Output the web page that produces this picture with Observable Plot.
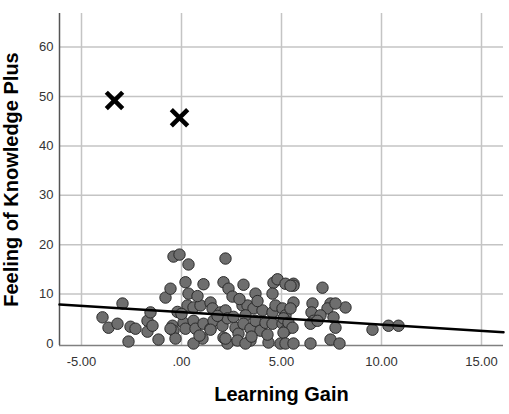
<!DOCTYPE html>
<html>
<head>
<meta charset="utf-8">
<script src="https://cdn.jsdelivr.net/npm/d3@7"></script>
<script src="https://cdn.jsdelivr.net/npm/@observablehq/plot@0.6"></script>
<style>
  html, body { margin: 0; padding: 0; background: #fff; }
  #chart svg { display: block; }
</style>
</head>
<body>
<div id="chart"></div>
<script>
// Learning gain (x) values of the regular cases
const gainX = [-3.95,-3.65,-3.2,-2.95,-2.65,-2.55,-2.3,-1.7,-1.55,-1.7,-1.45,-1.15,-0.8,-0.55,-0.4,-0.1,0.35,0.2,1.1,2.2,2.1,2.35,0.35,0.3,0.6,0.95,1.45,1.55,1.95,
  -0.45,-0.4,-0.3,0.1,0.2,0.6,0.7,1.1,1.05,1.45,1.6,2.05,2.1,0.6,1.45,2.3,-0.55,
  2.55,3.05,3.1,3.7,4.6,4.8,4.55,5.6,2.2,2.3,3.3,3.6,3.2,4.05,4.55,4.7,5.05,5.2,
  2.7,2.85,3.1,3.45,3.7,3.95,4.2,4.55,5.05,5.2,2.2,2.8,3.45,4.35,4.95,3.2,
  5.6,7.05,6.55,6.5,6.6,5.2,5.45,5.6,5.45,7.45,7.3,8.2,6.95,7.6,5.1,5.35,5.55,5.1,6.45,6.8,7.7,
  5.2,5.6,6.45,7.45,7.9,9.55,10.35,10.85,7.7,
  0.9,2.6,3.8,4.3,0.8,-0.2,1.8,2.9,3.5,0.0];
// Feeling of Knowledge Plus (y) values of the regular cases
const fokY = [5.3,3.2,4.0,8.1,0.4,3.4,3.0,4.6,6.3,2.4,3.6,0.8,9.3,11.1,17.6,18.0,16.0,12.4,12.0,17.2,12.4,11.1,10.1,7.7,7.3,7.7,8.3,7.1,6.3,
  3.6,2.6,1.0,4.2,3.0,4.6,3.0,4.0,1.0,3.0,4.6,3.6,1.2,0,2.8,0,3.0,
  9.5,7.7,11.9,10.1,12.3,13.0,10.1,12.1,6.7,5.1,7.7,7.1,5.7,6.7,6.3,7.7,7.1,5.7,
  3.2,2.0,4.0,3.0,4.6,2.6,4.2,4.0,4.0,2.6,1.0,0.6,0.6,0.2,0,0,
  11.7,11.3,8.1,6.3,4.6,12.1,11.7,8.3,7.1,8.1,7.1,7.3,5.7,5.3,5.1,4.2,3.2,2.2,4.0,4.6,3.2,
  0,0,0,0.8,0,2.8,3.6,3.6,8.1,
  1.6,5.4,8.6,1.8,9.6,6.4,5.6,9.0,1.4,6.0];
// Outlying cases (drawn as crosses)
const outlierX = [-3.35, -0.1];
const outlierY = [49.2, 45.7];
// Fit line end points
const fitX = [-6.1, 16.1];
const fitY = [7.9, 2.3];
// Ticks
const xTicks = [-5, 0, 5, 10, 15];
const xTickLabels = ["-5.00", ".00", "5.00", "10.00", "15.00"];
const yTicks = [0, 10, 20, 30, 40, 50, 60];
const yGrid = [10, 20, 30, 40, 50, 60];
const xTitle = "Learning Gain";
const yTitle = "Feeling of Knowledge Plus";

const points = gainX.map((x, i) => ({x, y: fokY[i]}));
const outliers = outlierX.map((x, i) => ({x, y: outlierY[i]}));
const fit = fitX.map((x, i) => ({x, y: fitY[i]}));

const chart = Plot.plot({
  width: 509,
  height: 414,
  marginLeft: 59,
  marginRight: 6,
  marginTop: 13,
  marginBottom: 69,
  style: {fontFamily: "'Liberation Sans', Arial, sans-serif", background: "#fff"},
  x: {domain: [-6.1, 16.1]},
  y: {domain: [-0.4, 66.8]},
  marks: [
    Plot.gridX(xTicks, {stroke: "#c4c4c4", strokeOpacity: 1, strokeWidth: 1.5}),
    Plot.gridY(yGrid, {stroke: "#c4c4c4", strokeOpacity: 1, strokeWidth: 1.5}),
    Plot.axisX(xTicks, {tickSize: 0, tickPadding: 11, fontSize: 13, fill: "#333",
      tickFormat: d => xTickLabels[xTicks.indexOf(d)], label: null}),
    Plot.axisY(yTicks, {tickSize: 0, tickPadding: 6, fontSize: 13, fill: "#333", label: null}),
    Plot.ruleY([-0.4], {stroke: "#808080", strokeWidth: 1.5}),
    Plot.ruleX([-6.1], {stroke: "#555", strokeWidth: 1.5}),
    Plot.dot(points, {x: "x", y: "y", r: 5.7, fill: "#6e6e6e", stroke: "#2a2a2a", strokeWidth: 1}),
    Plot.line(fit, {x: "x", y: "y", stroke: "#000", strokeWidth: 2.5}),
    Plot.dot(outliers, {x: "x", y: "y", symbol: "times", r: 7.5, stroke: "#000", strokeWidth: 4.5}),
    Plot.text([xTitle], {frameAnchor: "bottom", dy: 55, fontSize: 20, fontWeight: "bold", fill: "#000"}),
    Plot.text([yTitle], {frameAnchor: "left", textAnchor: "middle", dx: -48, rotate: -90, fontSize: 20, fontWeight: "bold", fill: "#000"})
  ]
});
document.getElementById("chart").appendChild(chart);
</script>
</body>
</html>
